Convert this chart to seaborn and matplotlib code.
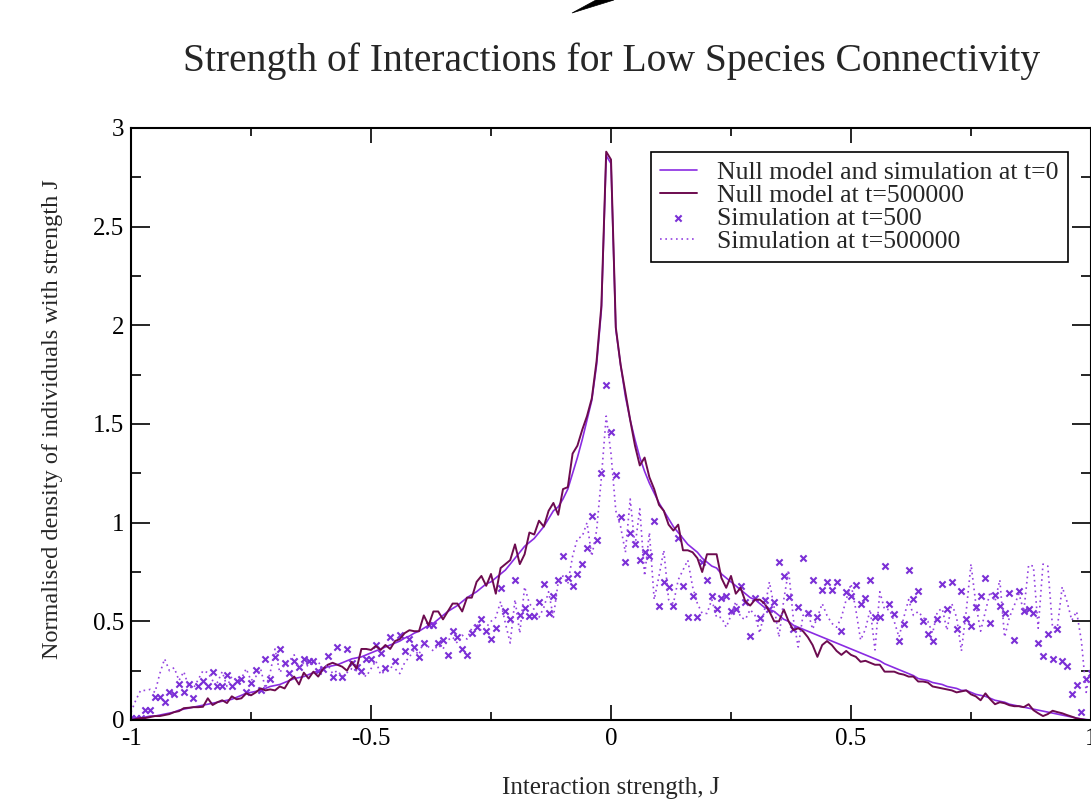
import numpy as np
import matplotlib
matplotlib.use("Agg")
import matplotlib.pyplot as plt
import seaborn as sns
from matplotlib.patches import Polygon
from matplotlib.ticker import MultipleLocator

# bin centres of the interaction strength J (step 0.01)
J = np.round(np.linspace(-1.0, 1.0, 201), 2)

# Null model and simulation at t=0
null_t0 = [
    0.000, 0.010, 0.010, 0.015, 0.020, 0.020, 0.025, 0.030, 0.035, 0.040,
    0.050, 0.055, 0.060, 0.065, 0.070, 0.075, 0.080, 0.085, 0.090, 0.095,
    0.100, 0.105, 0.115, 0.125, 0.135, 0.140, 0.145, 0.150, 0.160, 0.170,
    0.175, 0.180, 0.190, 0.200, 0.210, 0.215, 0.220, 0.230, 0.240, 0.250,
    0.260, 0.270, 0.275, 0.280, 0.290, 0.300, 0.310, 0.315, 0.320, 0.330,
    0.340, 0.350, 0.360, 0.370, 0.380, 0.390, 0.400, 0.415, 0.425, 0.440,
    0.450, 0.465, 0.480, 0.490, 0.510, 0.530, 0.550, 0.565, 0.580, 0.600,
    0.620, 0.635, 0.650, 0.670, 0.690, 0.700, 0.720, 0.740, 0.760, 0.790,
    0.820, 0.850, 0.880, 0.900, 0.920, 0.950, 0.980, 1.020, 1.060, 1.080,
    1.120, 1.170, 1.250, 1.330, 1.420, 1.520, 1.620, 1.800, 2.080, 2.860,
    2.820, 1.980, 1.800, 1.640, 1.520, 1.420, 1.330, 1.260, 1.200, 1.150,
    1.100, 1.060, 1.020, 0.980, 0.950, 0.920, 0.890, 0.870, 0.850, 0.820,
    0.800, 0.780, 0.770, 0.740, 0.720, 0.700, 0.680, 0.660, 0.640, 0.620,
    0.610, 0.590, 0.570, 0.560, 0.550, 0.530, 0.510, 0.500, 0.480, 0.470,
    0.460, 0.450, 0.440, 0.430, 0.420, 0.410, 0.400, 0.390, 0.380, 0.370,
    0.360, 0.350, 0.340, 0.330, 0.320, 0.310, 0.300, 0.285, 0.275, 0.265,
    0.255, 0.245, 0.235, 0.225, 0.210, 0.205, 0.200, 0.190, 0.185, 0.180,
    0.170, 0.165, 0.160, 0.150, 0.150, 0.140, 0.130, 0.125, 0.120, 0.110,
    0.100, 0.095, 0.090, 0.080, 0.075, 0.070, 0.065, 0.060, 0.055, 0.050,
    0.045, 0.040, 0.035, 0.030, 0.025, 0.020, 0.015, 0.010, 0.005, 0.002,
    0.000,
]

# Null model at t=500000
null_t500000 = [
    0.000, 0.005, 0.010, 0.010, 0.015, 0.020, 0.020, 0.025, 0.030, 0.040,
    0.045, 0.060, 0.062, 0.065, 0.065, 0.067, 0.110, 0.076, 0.090, 0.100,
    0.086, 0.120, 0.105, 0.110, 0.135, 0.125, 0.140, 0.160, 0.150, 0.155,
    0.150, 0.170, 0.160, 0.200, 0.220, 0.180, 0.240, 0.210, 0.245, 0.220,
    0.260, 0.280, 0.290, 0.280, 0.270, 0.250, 0.295, 0.260, 0.360, 0.360,
    0.355, 0.375, 0.355, 0.380, 0.360, 0.400, 0.410, 0.440, 0.455, 0.450,
    0.450, 0.530, 0.480, 0.550, 0.550, 0.510, 0.550, 0.590, 0.590, 0.550,
    0.620, 0.620, 0.700, 0.730, 0.680, 0.740, 0.640, 0.770, 0.790, 0.810,
    0.890, 0.790, 0.840, 0.950, 0.940, 1.010, 0.980, 1.060, 1.100, 1.040,
    1.170, 1.180, 1.350, 1.390, 1.470, 1.540, 1.630, 1.820, 2.100, 2.880,
    2.840, 1.990, 1.800, 1.660, 1.520, 1.390, 1.290, 1.330, 1.230, 1.170,
    1.090, 1.060, 0.990, 0.960, 0.990, 0.860, 0.860, 0.850, 0.820, 0.750,
    0.840, 0.840, 0.840, 0.720, 0.670, 0.730, 0.640, 0.670, 0.600, 0.580,
    0.610, 0.610, 0.590, 0.550, 0.500, 0.500, 0.560, 0.500, 0.455, 0.465,
    0.450, 0.420, 0.380, 0.320, 0.380, 0.400, 0.380, 0.350, 0.330, 0.350,
    0.330, 0.320, 0.295, 0.300, 0.290, 0.280, 0.280, 0.245, 0.245, 0.245,
    0.235, 0.230, 0.220, 0.220, 0.195, 0.195, 0.190, 0.170, 0.165, 0.160,
    0.155, 0.150, 0.140, 0.145, 0.150, 0.130, 0.120, 0.100, 0.135, 0.105,
    0.080, 0.090, 0.085, 0.075, 0.070, 0.070, 0.065, 0.080, 0.050, 0.034,
    0.020, 0.030, 0.047, 0.040, 0.034, 0.025, 0.017, 0.008, 0.004, 0.000,
    0.000,
]

# Simulation at t=500
sim_t500 = [
    0.010, 0.010, 0.010, 0.050, 0.050, 0.115, 0.115, 0.090, 0.140, 0.130,
    0.180, 0.140, 0.180, 0.110, 0.170, 0.200, 0.170, 0.245, 0.170, 0.170,
    0.230, 0.170, 0.200, 0.210, 0.140, 0.190, 0.255, 0.150, 0.310, 0.210,
    0.320, 0.360, 0.290, 0.240, 0.300, 0.270, 0.310, 0.300, 0.300, 0.250,
    0.260, 0.325, 0.220, 0.370, 0.220, 0.360, 0.290, 0.270, 0.250, 0.310,
    0.310, 0.380, 0.340, 0.265, 0.420, 0.300, 0.430, 0.350, 0.410, 0.370,
    0.320, 0.390, 0.480, 0.480, 0.390, 0.405, 0.330, 0.450, 0.420, 0.360,
    0.330, 0.440, 0.470, 0.510, 0.450, 0.410, 0.465, 0.670, 0.550, 0.510,
    0.710, 0.530, 0.570, 0.525, 0.525, 0.600, 0.690, 0.540, 0.630, 0.710,
    0.830, 0.720, 0.680, 0.740, 0.790, 0.870, 1.035, 0.910, 1.250, 1.700,
    1.460, 1.240, 1.030, 0.800, 0.950, 0.890, 0.810, 0.850, 0.830, 1.010,
    0.580, 0.700, 0.675, 0.580, 0.920, 0.680, 0.520, 0.630, 0.520, 0.800,
    0.710, 0.630, 0.560, 0.620, 0.630, 0.550, 0.565, 0.680, 0.600, 0.425,
    0.620, 0.515, 0.610, 0.560, 0.600, 0.800, 0.730, 0.625, 0.460, 0.575,
    0.820, 0.540, 0.710, 0.520, 0.660, 0.700, 0.660, 0.700, 0.450, 0.650,
    0.630, 0.685, 0.590, 0.620, 0.710, 0.520, 0.520, 0.780, 0.590, 0.535,
    0.400, 0.485, 0.760, 0.615, 0.655, 0.500, 0.435, 0.400, 0.510, 0.690,
    0.560, 0.700, 0.460, 0.655, 0.510, 0.475, 0.575, 0.630, 0.720, 0.490,
    0.635, 0.580, 0.540, 0.645, 0.405, 0.655, 0.550, 0.565, 0.540, 0.390,
    0.325, 0.435, 0.310, 0.460, 0.300, 0.275, 0.130, 0.175, 0.040, 0.210,
    0.240,
]

# Simulation at t=500000
sim_t500000 = [
    0.040, 0.100, 0.150, 0.150, 0.155, 0.140, 0.235, 0.310, 0.250, 0.265,
    0.200, 0.245, 0.170, 0.160, 0.205, 0.250, 0.240, 0.200, 0.190, 0.245,
    0.170, 0.220, 0.200, 0.210, 0.260, 0.200, 0.220, 0.260, 0.160, 0.240,
    0.360, 0.240, 0.280, 0.300, 0.330, 0.260, 0.290, 0.270, 0.300, 0.295,
    0.260, 0.280, 0.235, 0.250, 0.220, 0.240, 0.260, 0.250, 0.240, 0.220,
    0.260, 0.300, 0.230, 0.250, 0.270, 0.260, 0.235, 0.290, 0.320, 0.355,
    0.330, 0.405, 0.370, 0.350, 0.380, 0.360, 0.405, 0.420, 0.390, 0.430,
    0.410, 0.465, 0.490, 0.450, 0.470, 0.500, 0.520, 0.600, 0.490, 0.390,
    0.610, 0.440, 0.675, 0.590, 0.560, 0.520, 0.570, 0.650, 0.520, 0.700,
    0.730, 0.690, 0.830, 0.920, 0.930, 1.000, 0.830, 0.960, 1.230, 1.540,
    1.350, 1.060, 0.980, 0.850, 1.120, 0.880, 1.070, 0.730, 0.950, 0.610,
    0.730, 0.860, 0.610, 0.590, 0.710, 0.760, 0.810, 0.675, 0.590, 0.540,
    0.540, 0.610, 0.520, 0.520, 0.470, 0.530, 0.600, 0.520, 0.510, 0.560,
    0.530, 0.440, 0.560, 0.700, 0.570, 0.420, 0.610, 0.760, 0.510, 0.370,
    0.530, 0.550, 0.460, 0.520, 0.590, 0.530, 0.490, 0.470, 0.520, 0.610,
    0.690, 0.560, 0.405, 0.460, 0.560, 0.355, 0.650, 0.560, 0.560, 0.500,
    0.420, 0.520, 0.610, 0.530, 0.550, 0.520, 0.500, 0.440, 0.550, 0.565,
    0.455, 0.590, 0.520, 0.350, 0.550, 0.790, 0.590, 0.450, 0.550, 0.650,
    0.600, 0.710, 0.420, 0.520, 0.580, 0.640, 0.550, 0.785, 0.780, 0.465,
    0.790, 0.780, 0.465, 0.470, 0.675, 0.600, 0.505, 0.550, 0.400, 0.140,
    0.280,
]

labels = [
    "Null model and simulation at t=0",
    "Null model at t=500000",
    "Simulation at t=500",
    "Simulation at t=500000",
]
title = "Strength of Interactions for Low Species Connectivity"
xlabel = "Interaction strength, J"
ylabel = "Normalised density of individuals with strength J"

c_t0 = "#8a2be2"
c_late = "#6d0b4f"
c_sim = "#7b2fd6"
c_dots = "#9442e0"

sns.set_style("ticks")
plt.rcParams["font.family"] = ["Liberation Serif", "DejaVu Serif"]
plt.rcParams["axes.linewidth"] = 1.5

W, H = 1091, 800
fig = plt.figure(figsize=(W / 100, H / 100), dpi=100)
fig.patch.set_facecolor("white")
ax = fig.add_axes([131 / W, 80 / H, 960 / W, 592 / H])

sns.lineplot(x=J, y=null_t0, color=c_t0, linewidth=1.2, label=labels[0], ax=ax)
sns.lineplot(x=J, y=null_t500000, color=c_late, linewidth=1.4, label=labels[1], ax=ax)
sns.scatterplot(x=J, y=sim_t500, marker="x", s=20, color=c_sim, linewidth=1.5,
                label=labels[2], ax=ax)
sns.lineplot(x=J, y=sim_t500000, color=c_dots, linewidth=1.2, linestyle=(0, (1, 2.2)),
             label=labels[3], ax=ax)

ax.set_xlim(-1, 1)
ax.set_ylim(0, 3)
ax.xaxis.set_minor_locator(MultipleLocator(0.25))
ax.yaxis.set_minor_locator(MultipleLocator(0.25))
ax.set_xticks([-1, -0.5, 0, 0.5, 1])
ax.set_xticklabels(["-1", "-0.5", "0", "0.5", "1"])
ax.set_yticks([0, 0.5, 1, 1.5, 2, 2.5, 3])
ax.set_yticklabels(["0", "0.5", "1", "1.5", "2", "2.5", "3"])
ax.tick_params(axis="both", which="both", direction="in", top=True, right=True,
               width=1.2, colors="black", labelsize=18)
ax.tick_params(axis="x", which="major", length=11, pad=6)
ax.tick_params(axis="x", which="minor", length=5.5)
ax.tick_params(axis="y", which="major", length=14, pad=5)
ax.tick_params(axis="y", which="minor", length=7)
for s in ax.spines.values():
    s.set_visible(True)
    s.set_color("black")
    s.set_linewidth(1.5)

ax.set_xlabel(xlabel, fontsize=18, va="top")
ax.xaxis.set_label_coords(0.5, -0.097)
ax.set_ylabel(ylabel, fontsize=17.5, va="bottom")
ax.yaxis.set_label_coords(-0.071, 0.508)

handles, labs = ax.get_legend_handles_labels()
order = [labs.index(l) for l in labels]
leg = ax.legend([handles[i] for i in order], [labs[i] for i in order],
                loc="upper right", bbox_to_anchor=(0.976, 0.959), borderaxespad=0,
                fontsize=18.5, labelspacing=0.0, handlelength=1.45, handletextpad=0.8,
                borderpad=0.35, frameon=True, fancybox=False, framealpha=1,
                edgecolor="black", markerscale=1.0)
leg.get_frame().set_linewidth(1.2)

fig.text(611.5 / W, 1 - 71 / H, title, ha="center", va="baseline", fontsize=28.5)

# small black fragment at the top edge of the original picture
frag = Polygon([(572 / W, 1 - 13 / H), (596 / W, 1.0), (614 / W, 1.0)],
               closed=True, transform=fig.transFigure, facecolor="black",
               edgecolor="black", linewidth=0.5)
fig.patches.append(frag)

fig.savefig("out.png", dpi=100, facecolor="white")
